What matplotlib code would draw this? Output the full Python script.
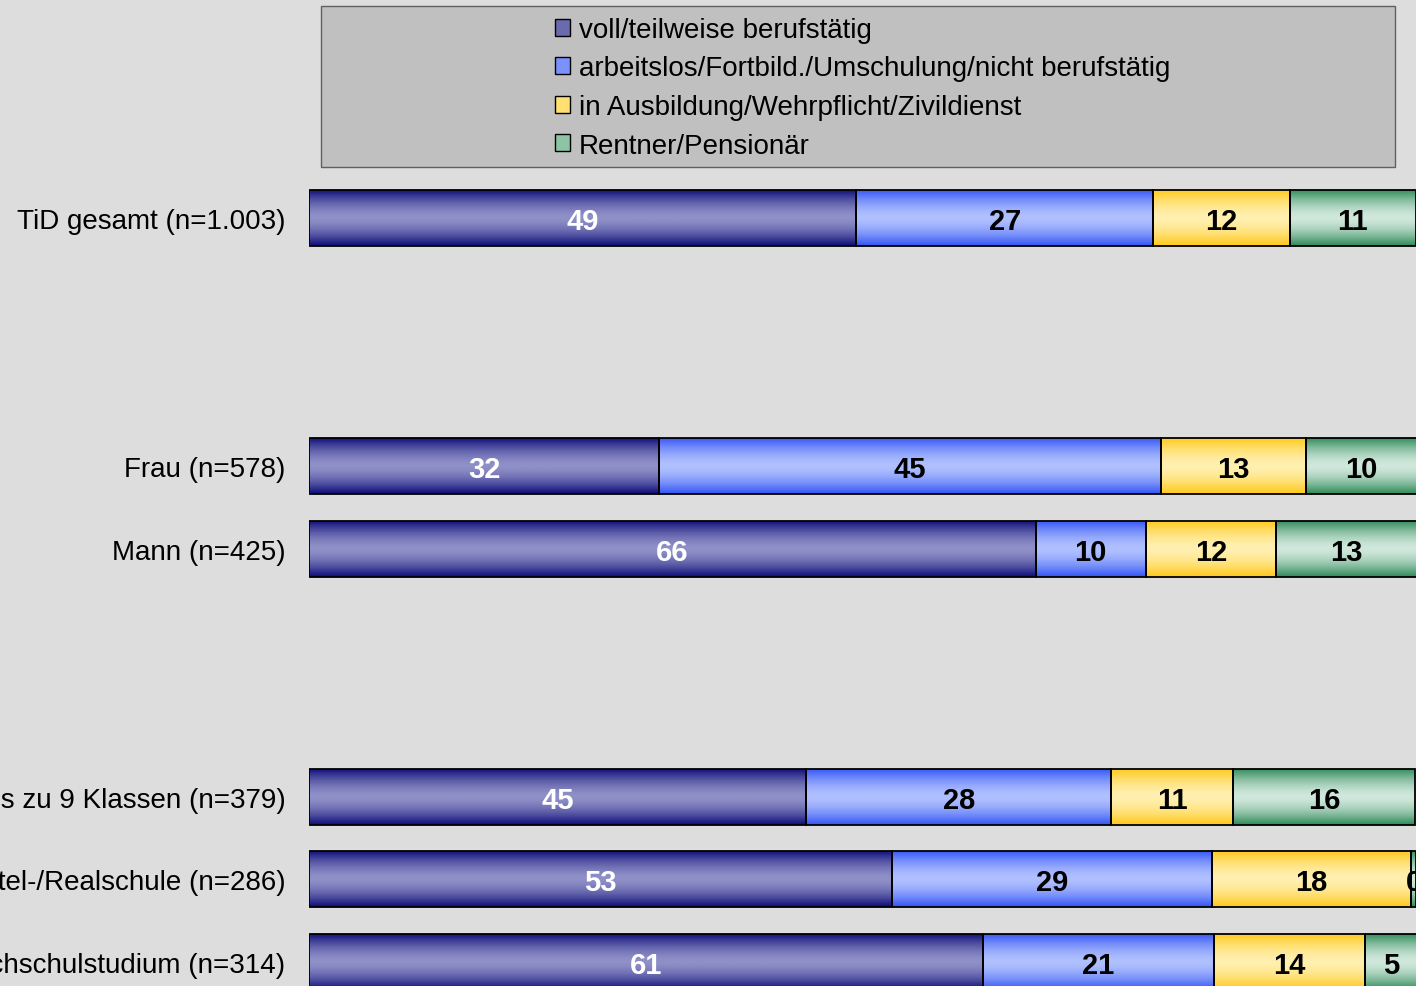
import numpy as np
import matplotlib.pyplot as plt
from matplotlib.colors import LinearSegmentedColormap
from matplotlib.patches import Rectangle, Patch

plt.rcParams['font.family'] = ['Liberation Sans', 'DejaVu Sans']

# Daten (Prozent), leere Zeilen als Abstand zwischen den Gruppen
categories = ['TiD gesamt (n=1.003)', '', '',
              'Frau (n=578)', 'Mann (n=425)', '', '',
              'Volks-/Hauptschule bis zu 9 Klassen (n=379)',
              'Mittel-/Realschule (n=286)',
              'Abitur/Hochschulstudium (n=314)']
berufstaetig = [49.4, 0, 0, 31.6, 65.6, 0, 0, 44.9, 52.6, 60.8]
arbeitslos = [26.8, 0, 0, 45.3, 9.9, 0, 0, 27.5, 28.9, 20.9]
ausbildung = [12.3, 0, 0, 13.1, 11.8, 0, 0, 11.0, 18.0, 13.6]
rentner = [11.4, 0, 0, 10.0, 12.7, 0, 0, 16.4, 0.4, 4.7]
series_names = ['voll/teilweise berufstätig',
                'arbeitslos/Fortbild./Umschulung/nicht berufstätig',
                'in Ausbildung/Wehrpflicht/Zivildienst',
                'Rentner/Pensionär']

# Farbverlauf: Rand dunkel, Mitte hell
grads = [('#0c0c78', '#9090c8'), ('#3355f5', '#b0c0ff'),
         ('#ffc818', '#fff0b0'), ('#2e8a58', '#d0e8dc')]
legend_cols = ['#6a6aae', '#7a92ff', '#ffe070', '#8cc4a6']
text_cols = ['white', 'black', 'black', 'black']

W, H = 1416, 987
fig = plt.figure(figsize=(W / 100, H / 100), dpi=100)
fig.patch.set_facecolor('#dddddd')

step = 82.67
top = 219 - step / 2
bottom = 963 + step / 2
ax = fig.add_axes([309 / W, 1 - bottom / H, 1108 / W, (bottom - top) / H])
ax.set_facecolor('#dddddd')
for s in ax.spines.values():
    s.set_visible(False)
ax.set_xticks([])
ax.set_yticks(range(len(categories)))
ax.set_yticklabels(categories, fontsize=20)
ax.tick_params(axis='y', length=0, pad=17)

y = np.arange(len(categories))
left = np.zeros(len(categories))
grad = np.abs(np.linspace(-1, 1, 64))[:, None] ** 1.6
for vals, (dark, light), tc in zip([berufstaetig, arbeitslos, ausbildung, rentner],
                                   grads, text_cols):
    vals = np.array(vals)
    cmap = LinearSegmentedColormap.from_list('g', [light, dark])
    keep = vals > 0
    bars = ax.barh(y[keep], vals[keep], left=left[keep], height=0.68,
                   color='none', edgecolor='black', linewidth=1.3, zorder=3)
    for b, v in zip(bars, vals[keep]):
        x0, y0 = b.get_x(), b.get_y()
        im = ax.imshow(grad, cmap=cmap, aspect='auto', vmin=0, vmax=1,
                       extent=[x0, x0 + b.get_width(), y0 + b.get_height(), y0],
                       zorder=2, interpolation='bilinear')
        im.set_clip_path(b)
        ax.text(x0 + b.get_width() / 2, y0 + b.get_height() / 2,
                f'{v:.0f}', ha='center', va='center_baseline', fontsize=21,
                fontweight='bold', color=tc, zorder=4)
    left = left + vals
ax.set_xlim(0, 100)
ax.set_ylim(len(categories) - 0.5, -0.5)

# Legende
fig.patches.append(Rectangle((321 / W, 1 - 168 / H), 1074 / W, 161 / H,
                             transform=fig.transFigure, facecolor='#c0c0c0',
                             edgecolor='#606060', linewidth=1))
handles = [Patch(facecolor=c, edgecolor='black', linewidth=1) for c in legend_cols]
fig.legend(handles, series_names, loc='upper left',
           bbox_to_anchor=(555 / W, 1 - 18 / H), frameon=False, fontsize=20,
           handlelength=0.55, handleheight=0.55, handletextpad=0.3,
           labelspacing=0.45, borderpad=0, borderaxespad=0)

fig.savefig('out.png', dpi=100, facecolor=fig.get_facecolor())
